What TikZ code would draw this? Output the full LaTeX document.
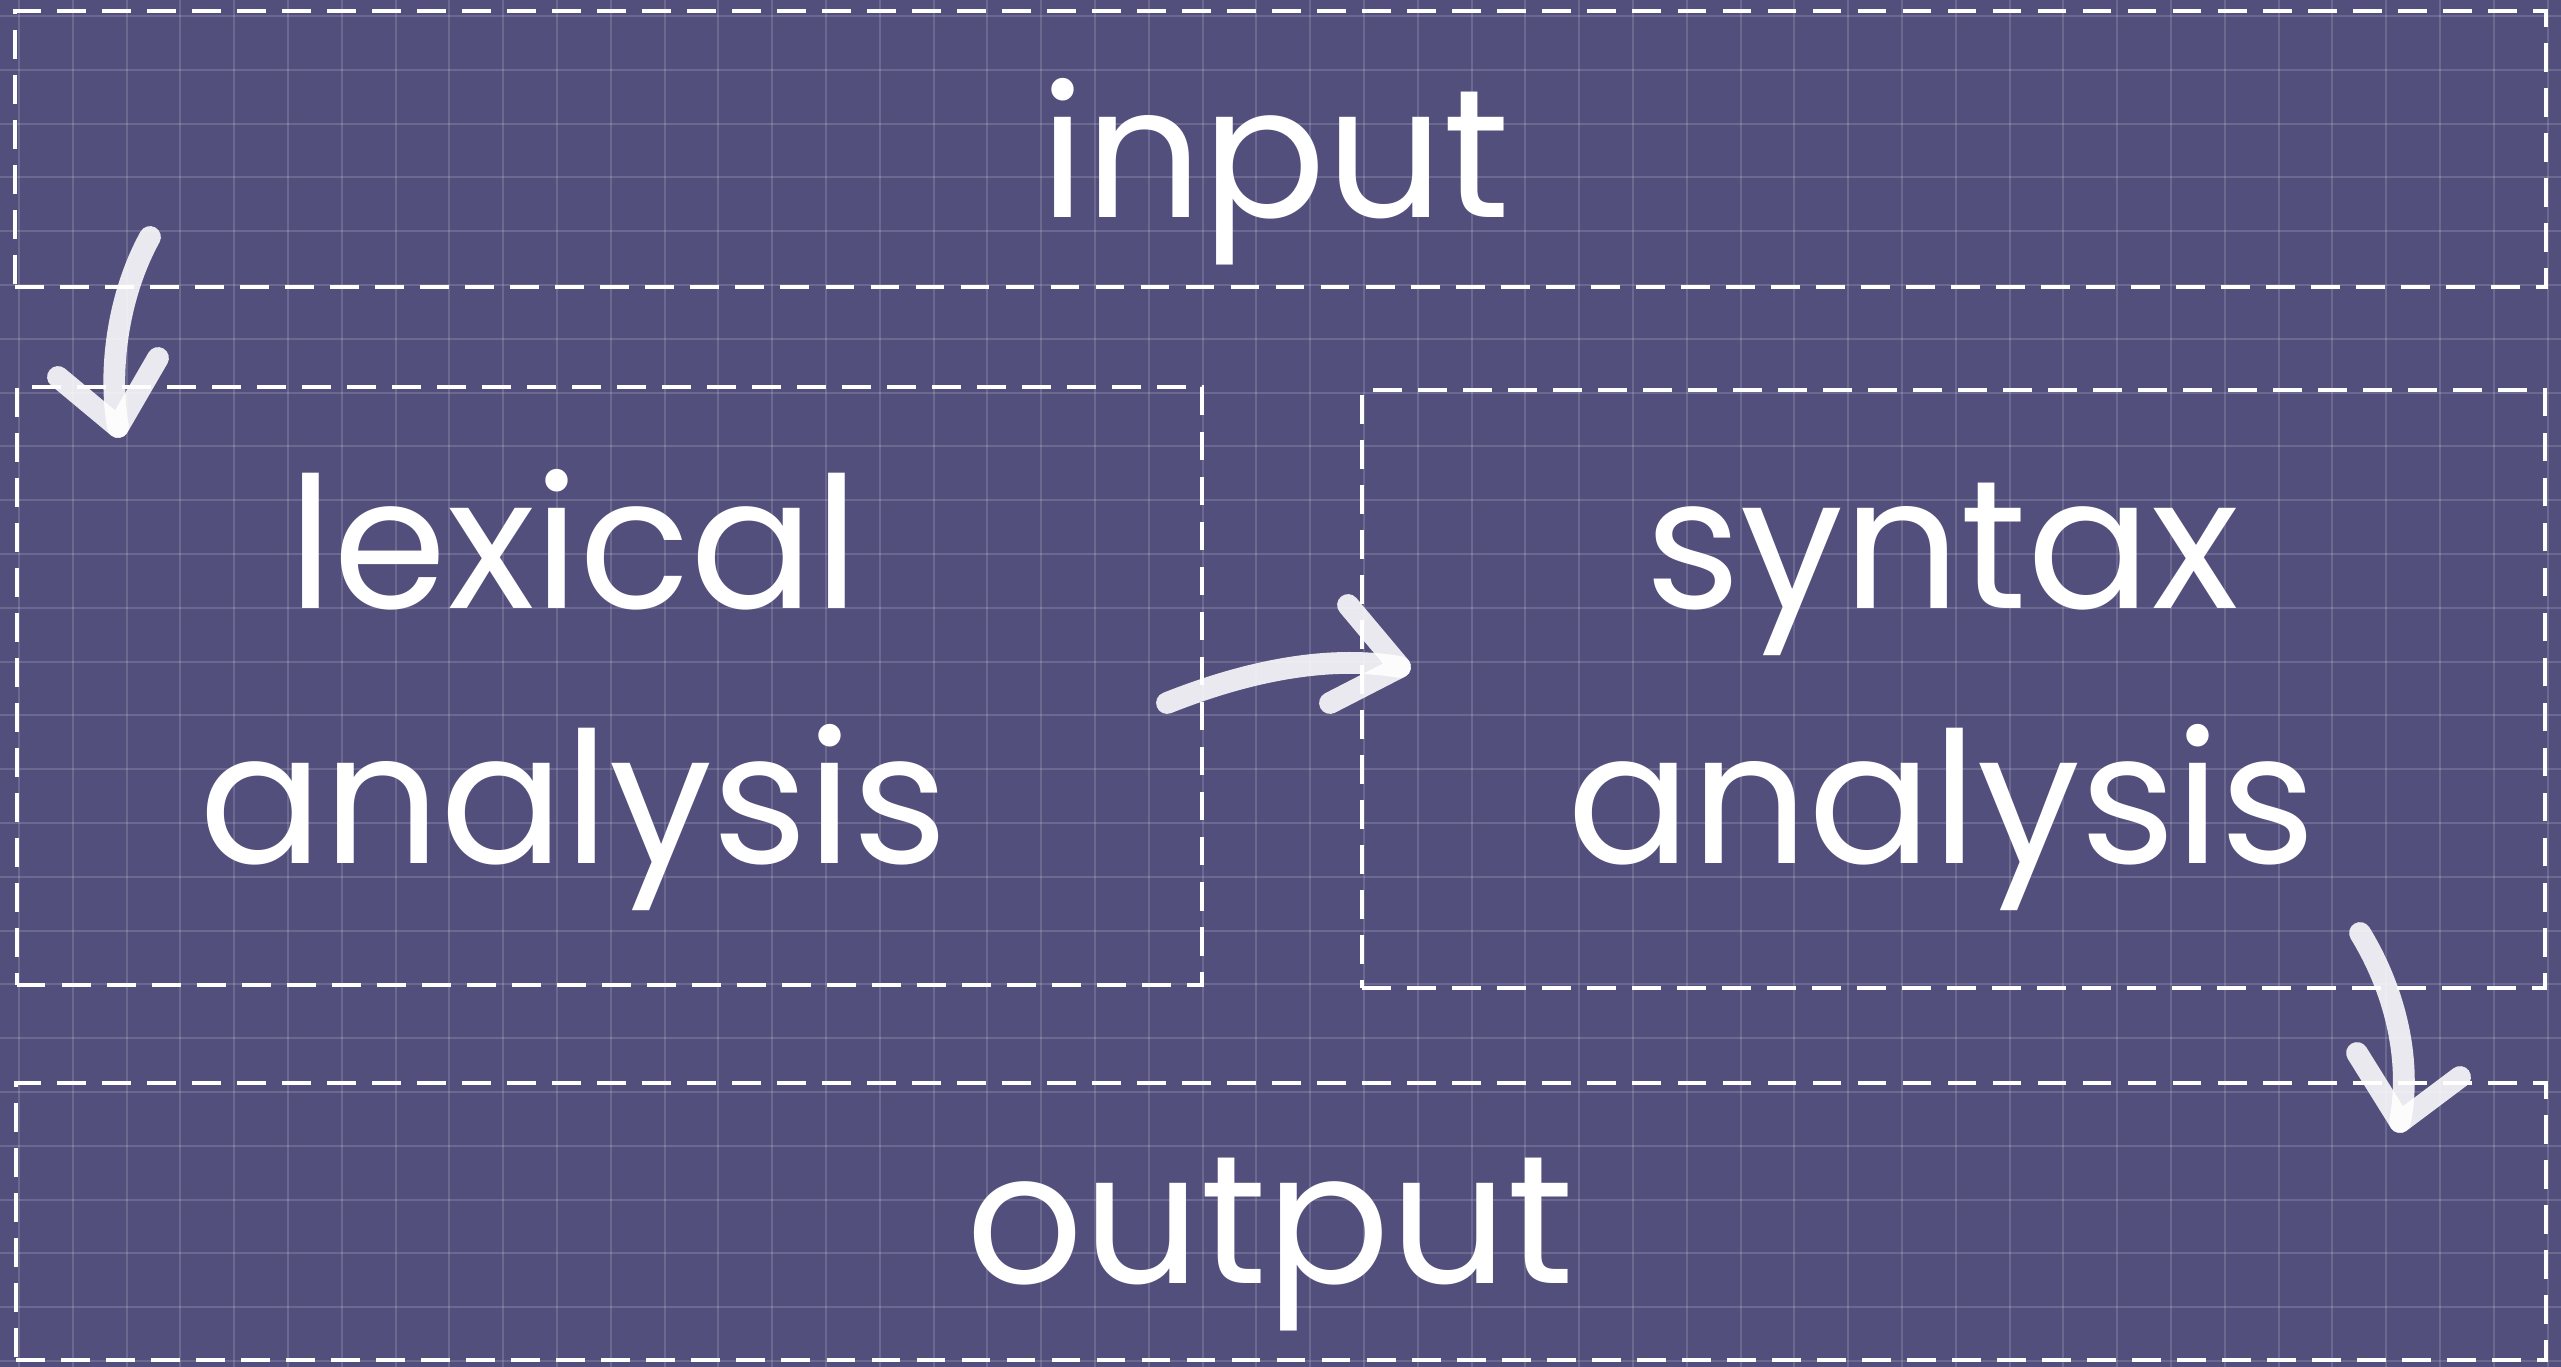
\documentclass[tikz,border=0pt]{standalone}
\usepackage{fontspec}
\setmainfont{Poppins}
\definecolor{board}{RGB}{82,79,125}
\tikzset{
  stage/.style={draw=white,line width=1.15pt,dash pattern=on 8.2pt off 4.6pt,inner sep=0pt},
  word/.style={text=white,align=center,inner sep=0pt,font=\fontsize{52}{72.5}\selectfont},
  chalk/.style={white,opacity=.88,line width=6.2pt,line cap=round,line join=round}
}
\begin{document}
\begin{tikzpicture}[x=.01cm,y=-.01cm]
\useasboundingbox (0,0) rectangle (2561,1367);
\fill[board] (0,0) rectangle (2561,1367);
\foreach \k in {0,...,47}{\draw[white,opacity=.15,line width=.6pt] (19+53.8*\k,0)--(19+53.8*\k,1367);}
\foreach \k in {0,...,25}{\draw[white,opacity=.15,line width=.6pt] (0,16+53.8*\k)--(2561,16+53.8*\k);}
% the four stages
\node[stage,minimum width=25.29cm,minimum height=2.76cm] (inbox) at (1280.5,149) {};
\node[stage,minimum width=11.85cm,minimum height=5.98cm] (lexbox) at (609.5,686) {};
\node[stage,minimum width=11.83cm,minimum height=5.98cm] (synbox) at (1953.5,689) {};
\node[stage,minimum width=25.28cm,minimum height=2.77cm] (outbox) at (1281,1221.5) {};
\node[word,anchor=base] (intext) at (1275,218) {input};
\node[word] (lextext) at (574,690) {lexical\\analysis};
\node[word] (syntext) at (1942,697) {syntax\\analysis};
\node[word,anchor=base] (outtext) at (1270,1283) {output};
% chalk arrows
\coordinate (a1s) at (150,237); \coordinate (a1t) at (118,427);
\coordinate (a1l) at (58,377); \coordinate (a1r) at (158,358);
\coordinate (a2s) at (1167,703); \coordinate (a2t) at (1400,667);
\coordinate (a2l) at (1348,605); \coordinate (a2r) at (1330,703);
\coordinate (a3s) at (2360,933); \coordinate (a3t) at (2400,1122);
\coordinate (a3l) at (2357,1053); \coordinate (a3r) at (2460,1077);
\draw[chalk] (a1s) .. controls (118,295) and (108,370) .. (a1t);
\draw[chalk] (a1l)--(a1t)--(a1r);
\draw[chalk] (a2s) .. controls (1250,670) and (1330,655) .. (a2t);
\draw[chalk] (a2l)--(a2t)--(a2r);
\draw[chalk] (a3s) .. controls (2395,990) and (2412,1060) .. (a3t);
\draw[chalk] (a3l)--(a3t)--(a3r);
\end{tikzpicture}
\end{document}
